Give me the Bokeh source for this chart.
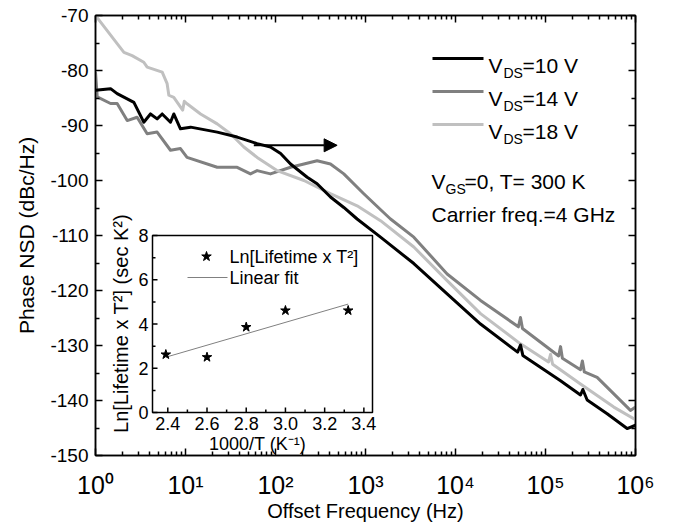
import math
from bokeh.plotting import figure
from bokeh.models import (Range1d, FixedTicker, LinearAxis, LogAxis, Arrow, NormalHead, LinearScale)
from bokeh.core.properties import value
from bokeh.embed import file_html
from bokeh.resources import INLINE

FONT = "Liberation Sans"

# ---------------- main chart data ----------------
f_10 = [1.0, 1.47, 1.74, 2.67, 3.44, 4.08, 4.84, 5.51, 6.81, 7.41, 8.79, 11.4, 22.5, 37.5,
        62.5, 87.9, 114, 147, 225, 290, 408, 574, 807, 1469, 3443, 8072, 18970, 49000,
        52720, 56000, 146900, 245000, 260000, 290400, 484200, 807200, 1000000]
nsd_10 = [-83.6, -83.3, -84.2, -85.8, -89.4, -87.9, -88.8, -87.9, -89.4, -87.9, -90.6, -90.3,
          -91.2, -92.1, -93.3, -93.9, -95.1, -97.0, -99.4, -100.6, -103.0, -104.9, -107.0,
          -110.3, -115.1, -120.6, -126.1, -131.2, -129.9, -131.8, -136.4, -139.0, -138.0,
          -139.9, -142.4, -145.1, -144.5]

f_14 = [1.0, 1.045, 1.47, 1.74, 2.25, 2.90, 3.75, 4.84, 6.81, 8.79, 10.4, 22.5, 37.5, 52.7,
        62.5, 87.9, 147, 207, 290, 408, 574, 957, 1514, 1897, 3443, 8072, 18970, 50000,
        52720, 55500, 140000, 146900, 154000, 244900, 257000, 270000, 375000, 879000, 1000000]
nsd_14 = [-80.3, -84.8, -86.0, -86.0, -89.1, -88.5, -91.5, -91.2, -94.5, -94.2, -95.8, -97.6,
          -97.6, -98.8, -98.2, -98.8, -97.6, -97.0, -96.4, -97.0, -98.8, -102.4, -105.5,
          -107.0, -110.3, -117.0, -121.8, -126.6, -124.9, -126.9, -131.9, -130.2, -132.3,
          -134.4, -132.8, -134.8, -135.8, -141.8, -141.2]

f_18 = [1.0, 1.74, 2.07, 2.55, 3.44, 3.75, 5.51, 6.25, 6.53, 7.41, 9.3, 9.7, 10.5, 14.7,
        22.5, 31.6, 44.5, 62.5, 104, 207, 407, 807, 1469, 3443, 8072, 18970, 52720, 108000,
        113800, 120000, 244900, 574100, 1000000]
nsd_18 = [-70.0, -75.1, -76.7, -77.3, -78.5, -79.4, -80.3, -82.4, -84.5, -84.9, -87.2, -85.6,
          -86.1, -87.9, -89.7, -91.5, -93.9, -95.8, -98.2, -100.0, -102.4, -104.6, -107.3,
          -112.1, -118.2, -124.2, -129.7, -133.0, -131.6, -133.4, -137.0, -141.2, -143.5]

series_labels = ["=10 V", "=14 V", "=18 V"]
series_colors = ["#000000", "#808080", "#c0c0c0"]

x_ticks = [1, 10, 100, 1000, 10000, 100000, 1000000]
x_tick_labels = ["10\u2070", "10\u00b9", "10\u00b2", "10\u00b3", "10\u2074", "10\u2075", "10\u2076"]
x_minor = [m * d for d in x_ticks[:-1] for m in range(2, 10)]
y_ticks = [-150, -140, -130, -120, -110, -100, -90, -80, -70]
y_tick_labels = ["-150", "-140", "-130", "-120", "-110", "-100", "-90", "-80", "-70"]
y_minor = [-145, -135, -125, -115, -105, -95, -85, -75]

# arrow (frequency span and level)
arrow_f = [57.4, 484.0]
arrow_y = -93.6

# ---------------- inset data ----------------
inv_T = [2.39, 2.60, 2.80, 3.00, 3.32]
ln_tau_T2 = [2.62, 2.50, 3.86, 4.61, 4.61]
fit_x = [2.39, 3.32]
fit_y = [2.50, 4.90]
inset_x_lim = [2.322, 3.444]
inset_y_lim = [0.0, 8.0]
inset_x_ticks = [2.4, 2.6, 2.8, 3.0, 3.2, 3.4]
inset_x_labels = ["2.4", "2.6", "2.8", "3.0", "3.2", "3.4"]
inset_x_minor = [2.5, 2.7, 2.9, 3.1, 3.3]
inset_y_ticks = [0, 2, 4, 6, 8]
inset_y_labels = ["0", "2", "4", "6", "8"]
inset_y_minor = [1, 3, 5, 7]

# ---------------- layout (screen px of the page) ----------------
FL, FT, FW, FH = 95, 15, 540, 440
X0, Y0 = FL, FT          # frame top-left on page
X1, Y1 = X0 + FW, Y0 + FH
IL, IR, IT, IB = 152, 372, 235, 412    # inset frame on page


def mx(px):
    return 10 ** ((px - X0) / FW * 6.0)


def my(py):
    return -70.0 - (py - Y0) / FH * 80.0


sx = (inset_x_lim[1] - inset_x_lim[0]) / (IR - IL)
sy = (inset_y_lim[1] - inset_y_lim[0]) / (IB - IT)


def ix(px):
    return inset_x_lim[0] + (px - IL) * sx


def iy(py):
    return inset_y_lim[0] + (IB - py) * sy


p = figure(frame_width=FW, frame_height=FH, x_axis_type="log",
           x_range=Range1d(1, 1e6), y_range=Range1d(-150, -70),
           output_backend="svg", toolbar_location=None,
           min_border_left=FL, min_border_top=FT, min_border_right=25, min_border_bottom=58)
p.extra_x_ranges = {"ix": Range1d(ix(X0), ix(X1))}
p.extra_y_ranges = {"iy": Range1d(iy(Y1), iy(Y0))}
p.extra_x_scales = {"ix": LinearScale()}
p.extra_y_scales = {"iy": LinearScale()}
p.xgrid.visible = False
p.ygrid.visible = False
p.outline_line_color = "black"
p.outline_line_width = 1.5
p.background_fill_color = "white"
p.border_fill_color = "white"

xt = FixedTicker(ticks=x_ticks, minor_ticks=x_minor)
yt = FixedTicker(ticks=y_ticks, minor_ticks=y_minor)


def style_axis(ax):
    ax.axis_line_width = 1.5
    ax.axis_line_color = "black"
    ax.major_tick_in = 7
    ax.major_tick_out = 0
    ax.minor_tick_in = 4
    ax.minor_tick_out = 0
    ax.major_tick_line_width = 1.5
    ax.minor_tick_line_width = 1.5
    ax.major_tick_line_color = "black"
    ax.minor_tick_line_color = "black"
    ax.major_label_text_font = FONT
    ax.major_label_text_color = "black"
    ax.axis_label_text_font = FONT
    ax.axis_label_text_font_style = "normal"
    ax.axis_label_text_color = "black"


xa = p.xaxis[0]
xa.ticker = xt
style_axis(xa)
xa.major_label_overrides = dict(zip(x_ticks, x_tick_labels))
xa.major_label_text_font_size = "25px"
xa.major_label_standoff = 15
xa.axis_label = "Offset Frequency (Hz)"
xa.axis_label_text_font_size = "20px"
xa.axis_label_standoff = -2

ya = p.yaxis[0]
ya.ticker = yt
style_axis(ya)
ya.major_label_overrides = dict(zip(y_ticks, y_tick_labels))
ya.major_label_text_font_size = "19px"
ya.major_label_standoff = 7
ya.axis_label = "Phase NSD (dBc/Hz)"
ya.axis_label_text_font_size = "21px"
ya.axis_label_standoff = 9

top = LogAxis(ticker=xt)
style_axis(top)
top.major_label_text_font_size = "0px"
top.major_label_text_color = None
top.major_label_standoff = 0
p.add_layout(top, "above")

right = LinearAxis(ticker=yt)
style_axis(right)
right.major_label_text_font_size = "0px"
right.major_label_text_color = None
right.major_label_standoff = 0
p.add_layout(right, "right")

# curves
p.line(f_14, nsd_14, line_color=series_colors[1], line_width=3, line_join="round")
p.line(f_18, nsd_18, line_color=series_colors[2], line_width=3, line_join="round")
p.line(f_10, nsd_10, line_color=series_colors[0], line_width=3, line_join="round")

# arrow
p.add_layout(Arrow(end=NormalHead(size=13, fill_color="black", line_color="black", line_width=1),
                   x_start=arrow_f[0], y_start=arrow_y, x_end=arrow_f[1], y_end=arrow_y,
                   line_width=2, line_color="black"))


def txt(x, y, s, size, align="left", baseline="alphabetic", angle=0.0, xo=0, yo=0, **kw):
    p.text(x=[x], y=[y], text=[s], text_font=value(FONT), text_font_size=value(f"{size}px"),
           text_align=align, text_baseline=baseline, angle=angle, x_offset=xo, y_offset=yo,
           text_color="black", **kw)


# main legend
rows = [58, 91, 124]
for r, lab, col in zip(rows, series_labels, series_colors):
    p.line([mx(432), mx(483)], [my(r), my(r)], line_color=col, line_width=3)
    txt(mx(488), my(r + 6.7), "V", 21)
    txt(mx(503), my(r + 14), "DS", 14)
    txt(mx(522), my(r + 6.7), lab, 21)

txt(mx(431), my(181), "V", 21)
txt(mx(445), my(188), "GS", 14)
txt(mx(464), my(181), "=0, T= 300 K", 21)
txt(mx(431), my(214), "Carrier freq.=4 GHz", 21)

# ---------------- inset ----------------
R = dict(x_range_name="ix", y_range_name="iy")
p.quad(left=[inset_x_lim[0]], right=[inset_x_lim[1]], bottom=[inset_y_lim[0]], top=[inset_y_lim[1]],
       fill_color=None, line_color="black", line_width=1.5, **R)
p.ray(x=inset_x_ticks, y=[inset_y_lim[0]] * len(inset_x_ticks), length=5, length_units="screen",
      angle=math.pi / 2, line_color="black", line_width=1.5, **R)
p.ray(x=inset_x_minor, y=[inset_y_lim[0]] * len(inset_x_minor), length=3, length_units="screen",
      angle=math.pi / 2, line_color="black", line_width=1.5, **R)
p.ray(x=[inset_x_lim[0]] * len(inset_y_ticks), y=inset_y_ticks, length=5, length_units="screen",
      angle=0, line_color="black", line_width=1.5, **R)
p.ray(x=[inset_x_lim[0]] * len(inset_y_minor), y=inset_y_minor, length=3, length_units="screen",
      angle=0, line_color="black", line_width=1.5, **R)
p.text(x=inset_x_ticks, y=[inset_y_lim[0]] * len(inset_x_ticks), text=inset_x_labels,
       text_font=value(FONT), text_font_size=value("18px"), text_align="center",
       text_baseline="top", y_offset=4, text_color="black", **R)
p.text(x=[inset_x_lim[0]] * len(inset_y_ticks), y=inset_y_ticks, text=inset_y_labels,
       text_font=value(FONT), text_font_size=value("18px"), text_align="right",
       text_baseline="middle", x_offset=-4, text_color="black", **R)

p.line(fit_x, fit_y, line_color="#808080", line_width=1, **R)
p.scatter(inv_T, ln_tau_T2, marker="star", size=10, fill_color="black", line_color="black", **R)

# inset legend
p.scatter([ix(206)], [iy(256)], marker="star", size=10, fill_color="black", line_color="black", **R)
txt(ix(229), iy(256), "Ln[Lifetime x T\u00b2]", 18, baseline="middle", **R)
p.line([ix(187), ix(227)], [iy(277), iy(277)], line_color="#808080", line_width=1, **R)
txt(ix(229), iy(277), "Linear fit", 18, baseline="middle", **R)

# inset axis titles
txt(ix(257), iy(443), "1000/T (K\u207b\u00b9)", 18, align="center", **R)
txt(ix(120), iy(323), "Ln[Lifetime x T\u00b2] (sec K\u00b2)", 20, align="center",
    baseline="middle", angle=math.pi / 2, **R)

open("out.html", "w").write(file_html(p, INLINE))
